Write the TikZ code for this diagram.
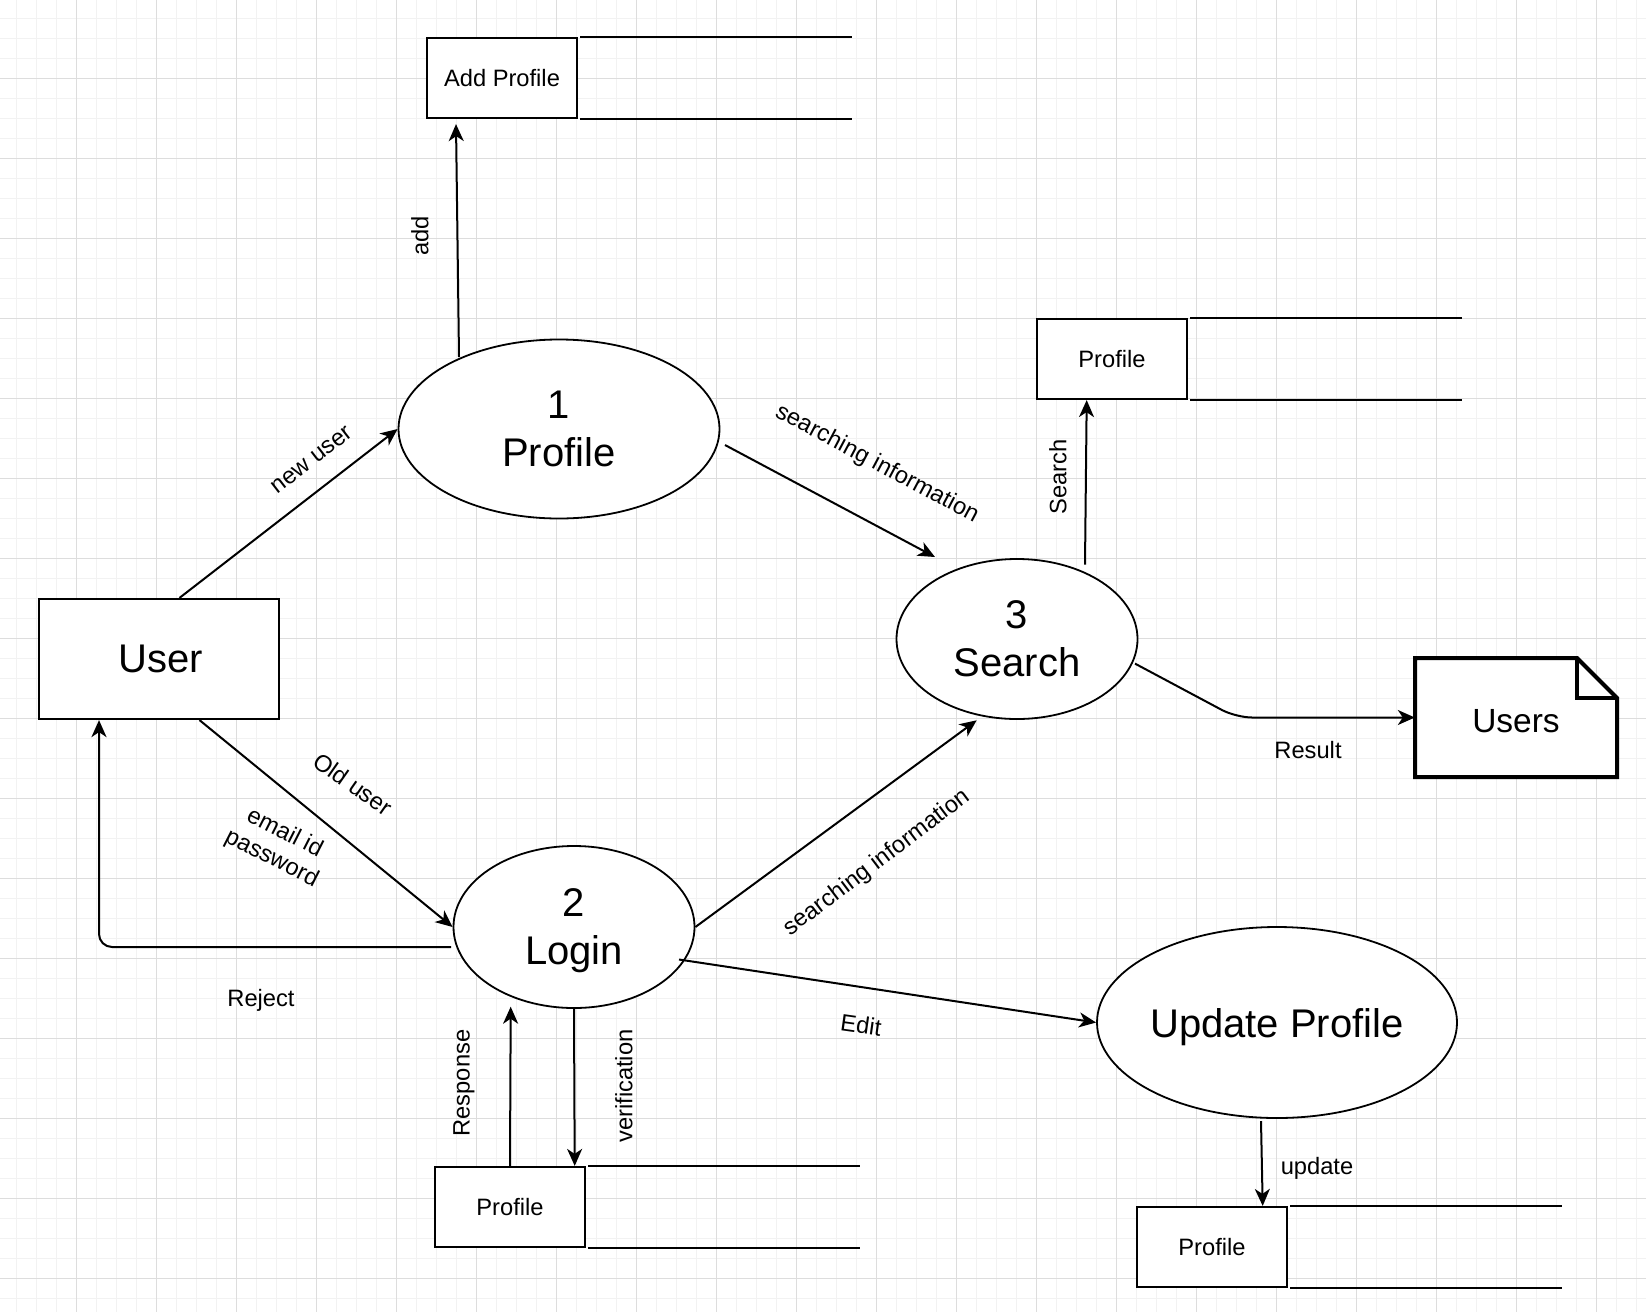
\documentclass[tikz,border=0pt]{standalone}
\usepackage{fontspec}
\setmainfont{Liberation Sans}
\usetikzlibrary{arrows.meta,shapes.geometric,calc}
\definecolor{gmajor}{RGB}{221,221,221}
\definecolor{gminor}{RGB}{242,242,242}
\begin{document}
\begin{tikzpicture}[x=1pt,y=-1pt,
  bigtext/.style={font=\fontsize{40}{48}\selectfont},
  lbl/.style={font=\fontsize{23.7}{28.4}\selectfont, inner sep=0pt, align=center},
  proc/.style={ellipse, draw, line width=1.8pt, fill=white, inner sep=0pt, align=center, bigtext},
  entity/.style={rectangle, draw, line width=2.2pt, fill=white, inner sep=0pt, bigtext},
  storebox/.style={rectangle, draw, line width=2.2pt, fill=white, minimum width=150pt, minimum height=80pt, inner sep=0pt, font=\fontsize{23.7}{28.4}\selectfont},
  storeline/.style={line width=2.2pt},
  flow/.style={draw, line width=2pt, -{Stealth[length=17pt,width=15pt,inset=5pt]}}
]
\useasboundingbox (0,0) rectangle (1646,1312);
\fill[white] (0,0) rectangle (1646,1312);
% grid
\foreach \i in {0,...,83} {\draw[gminor, line width=1pt] ({-3.3+20*\i},0) -- ({-3.3+20*\i},1312);}
\foreach \i in {0,...,66} {\draw[gminor, line width=1pt] (0,{-1.7+20*\i}) -- (1646,{-1.7+20*\i});}
\foreach \i in {0,...,20} {\draw[gmajor, line width=1pt] ({76.7+80*\i},0) -- ({76.7+80*\i},1312);}
\foreach \i in {0,...,16} {\draw[gmajor, line width=1pt] (0,{78.3+80*\i}) -- (1646,{78.3+80*\i});}

% data stores
\node[storebox] (addp) at (502,78) {Add Profile};
\draw[storeline] ($(addp.north east)+(2,0)$) -- ++(272,0);
\draw[storeline] ($(addp.south east)+(2,0)$) -- ++(272,0);
\node[storebox] (sprof) at (1112,359) {Profile};
\draw[storeline] ($(sprof.north east)+(2,0)$) -- ++(272,0);
\draw[storeline] ($(sprof.south east)+(2,0)$) -- ++(272,0);
\node[storebox] (lprof) at (510,1207) {Profile};
\draw[storeline] ($(lprof.north east)+(2,0)$) -- ++(272,0);
\draw[storeline] ($(lprof.south east)+(2,0)$) -- ++(272,0);
\node[storebox] (uprof) at (1212,1247) {Profile};
\draw[storeline] ($(uprof.north east)+(2,0)$) -- ++(272,0);
\draw[storeline] ($(uprof.south east)+(2,0)$) -- ++(272,0);

% processes
\node[proc, minimum width=321pt, minimum height=179pt] (p1) at (559,429) {1\\Profile};
\node[proc, minimum width=241pt, minimum height=160pt] (p3) at (1017,639) {3\\Search};
\node[proc, minimum width=241pt, minimum height=162pt, text depth=0pt] (p2) at (574,927) {2\\Login};
\node[proc, minimum width=360pt, minimum height=191pt, text depth=0pt] (p4) at (1277,1022.5) {Update Profile};

% external entities
\node[entity, minimum width=240pt, minimum height=120pt] (user) at (159,659) {\hspace*{4pt}User};
\path[draw, fill=white, line width=4pt] (1415,658) -- (1577,658) -- (1617,698) -- (1617,777) -- (1415,777) -- cycle;
\draw[line width=4pt] (1577,658) -- (1577,698) -- (1617,698);
\node[minimum width=202pt, minimum height=119pt, inner sep=0pt, font=\fontsize{33.5}{40}\selectfont] (users) at (1516,717.5) {};
\node[inner sep=0pt, font=\fontsize{33.5}{40}\selectfont] (userstext) at (1516,721.5) {Users};

% flows
\coordinate (rbend) at (1236,719);
\draw[flow] ($(user.north)+(20.5,0)$) -- (p1.west);
\draw[flow] ($(p1.center)+(-100,-72)$) -- ($(addp.south)+(-46,5)$);
\draw[flow] ($(p1.center)+(166,16)$) -- ($(p3.center)+(-82,-82)$);
\draw[flow] ($(p3.center)+(68,-74.4)$) -- ($(sprof.south)+(-25.3,0)$);
\draw[flow, rounded corners=16pt] ($(p3.center)+(118,24.6)$) -- (rbend |- users.west) -- (users.west);
\draw[flow] ($(user.south)+(40.5,0)$) -- (p2.west);
\draw[flow, rounded corners=13pt] ($(p2.center)+(-123,20)$) -| ($(user.south)+(-60,0)$);
\draw[flow] (p2.east) -- ($(p3.center)+(-40.3,81.3)$);
\draw[flow] ($(p2.center)+(105,32.5)$) -- (p4.west);
\draw[flow] (lprof.north) -- ($(p2.center)+(-63.3,79.7)$);
\draw[flow] (p2.south) -- ($(lprof.north)+(64.7,0)$);
\draw[flow] ($(p4.center)+(-16,98.5)$) -- ($(uprof.north)+(50.7,0)$);

% labels
\node[lbl, rotate=90] (ladd) at (420,236) {add};
\node[lbl, rotate=37.8] (lnew) at (312,460) {new user};
\node[lbl, rotate=-28] (lsi1) at (877,464) {searching information};
\node[lbl, rotate=90] (lsearch) at (1058,477) {Search};
\node[lbl] (lres) at (1308,750) {Result};
\node[lbl, rotate=-35] (lold) at (353,784) {Old user};
\node[lbl, rotate=-27] (lemail) at (278,846) {email id\\password};
\node[lbl] (lrej) at (261,1000) {Reject};
\node[lbl, rotate=37] (lsi2) at (877,863) {searching information};
\node[lbl, rotate=-8] (ledit) at (861,1025) {Edit};
\node[lbl, rotate=90] (lresp) at (464,1083) {Response};
\node[lbl, rotate=90] (lver) at (624,1086) {verification};
\node[lbl] (lupd) at (1317,1168) {update};
\end{tikzpicture}
\end{document}
